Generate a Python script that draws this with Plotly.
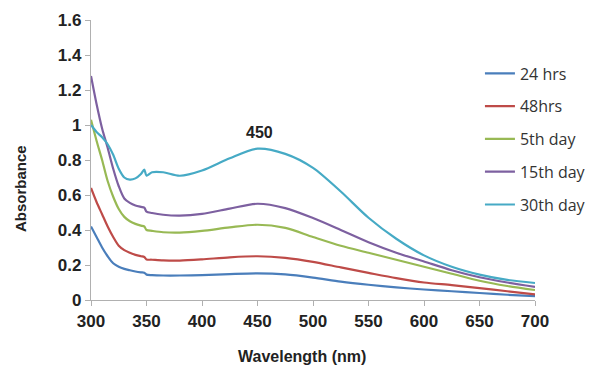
import plotly.graph_objects as go

wl = [300, 305, 310, 315, 320, 325, 330, 335, 340, 345, 348, 350, 355, 365, 380, 400, 425, 450, 475, 500, 525, 550, 575, 600, 625, 650, 675, 700]

a24 = [0.42, 0.36, 0.30, 0.25, 0.21, 0.19, 0.178, 0.17, 0.163, 0.158, 0.156, 0.145, 0.142, 0.14, 0.14, 0.142, 0.148, 0.152, 0.146, 0.128, 0.105, 0.087, 0.072, 0.06, 0.05, 0.04, 0.03, 0.022]
a48 = [0.64, 0.56, 0.49, 0.42, 0.36, 0.31, 0.285, 0.27, 0.258, 0.25, 0.246, 0.232, 0.23, 0.226, 0.225, 0.232, 0.244, 0.25, 0.241, 0.218, 0.186, 0.155, 0.125, 0.10, 0.085, 0.068, 0.05, 0.032]
a5d = [1.03, 0.91, 0.80, 0.68, 0.59, 0.52, 0.475, 0.45, 0.435, 0.425, 0.42, 0.40, 0.395, 0.387, 0.385, 0.395, 0.415, 0.43, 0.412, 0.36, 0.31, 0.27, 0.23, 0.19, 0.15, 0.11, 0.08, 0.057]
a15d = [1.28, 1.12, 0.98, 0.87, 0.75, 0.65, 0.58, 0.555, 0.54, 0.532, 0.528, 0.505, 0.497, 0.487, 0.482, 0.492, 0.522, 0.55, 0.525, 0.468, 0.40, 0.33, 0.27, 0.22, 0.17, 0.13, 0.10, 0.075]
a30d = [1.0, 0.96, 0.93, 0.89, 0.83, 0.75, 0.70, 0.688, 0.695, 0.72, 0.745, 0.71, 0.73, 0.73, 0.71, 0.74, 0.81, 0.865, 0.835, 0.755, 0.62, 0.47, 0.35, 0.255, 0.19, 0.145, 0.115, 0.097]

names = ["24 hrs", "48hrs", "5th day", "15th day", "30th day"]
series = [a24, a48, a5d, a15d, a30d]
colors = ["#4a7ebb", "#be4b48", "#98b954", "#7d60a0", "#46aac5"]

fig = go.Figure()
for n, s, c in zip(names, series, colors):
    fig.add_trace(go.Scatter(x=wl, y=s, mode="lines", name=n, legendgroup=n,
                             line=dict(color=c, width=2.2, shape="spline", smoothing=0.8)))

fnt = "Liberation Sans"
fig.add_annotation(x=452, y=0.87, text="<b>450</b>", showarrow=False, yshift=15,
                   font=dict(size=16, color="#222", family=fnt))
fig.add_annotation(xref="paper", yref="paper", x=(302 - 91) / 444, y=(300 - 356) / 280,
                   text="<b>Wavelength (nm)</b>", showarrow=False, xanchor="center", yanchor="middle",
                   font=dict(size=16, color="#222", family=fnt))
fig.add_annotation(xref="paper", yref="paper", x=(20 - 91) / 444, y=(300 - 189) / 280,
                   text="<b>Absorbance</b>", showarrow=False, textangle=-90, xanchor="center", yanchor="middle",
                   font=dict(size=15, color="#222", family=fnt))

axis_common = dict(showline=True, linecolor="#b0b0b0", linewidth=1.2, ticks="outside",
                   tickcolor="#b0b0b0", ticklen=5, showgrid=False, zeroline=False,
                   tickfont=dict(size=17, color="#222", family=fnt))

xt = [300, 350, 400, 450, 500, 550, 600, 650, 700]
fig.update_xaxes(range=[300, 700], tickvals=xt,
                 ticktext=["<b>%d</b>" % v for v in xt], **axis_common)
yt = [0, 0.2, 0.4, 0.6, 0.8, 1.0, 1.2, 1.4, 1.6]
fig.update_yaxes(range=[0, 1.6], tickvals=yt,
                 ticktext=["<b>%s</b>" % l for l in ["0", "0.2", "0.4", "0.6", "0.8", "1", "1.2", "1.4", "1.6"]],
                 **axis_common)

# the page body has an 8px margin, so the figure is drawn 8px smaller and offset
fig.update_layout(width=586, height=360, margin=dict(l=83, r=59, t=12, b=68, autoexpand=False),
                  paper_bgcolor="white", plot_bgcolor="white",
                  legend=dict(x=0.876, y=0.87, xanchor="left", yanchor="top",
                              font=dict(size=16, color="#333", family="Open Sans"),
                              tracegroupgap=9, itemwidth=30, bgcolor="rgba(0,0,0,0)"),
                  showlegend=True)

fig.write_html("out.html")
